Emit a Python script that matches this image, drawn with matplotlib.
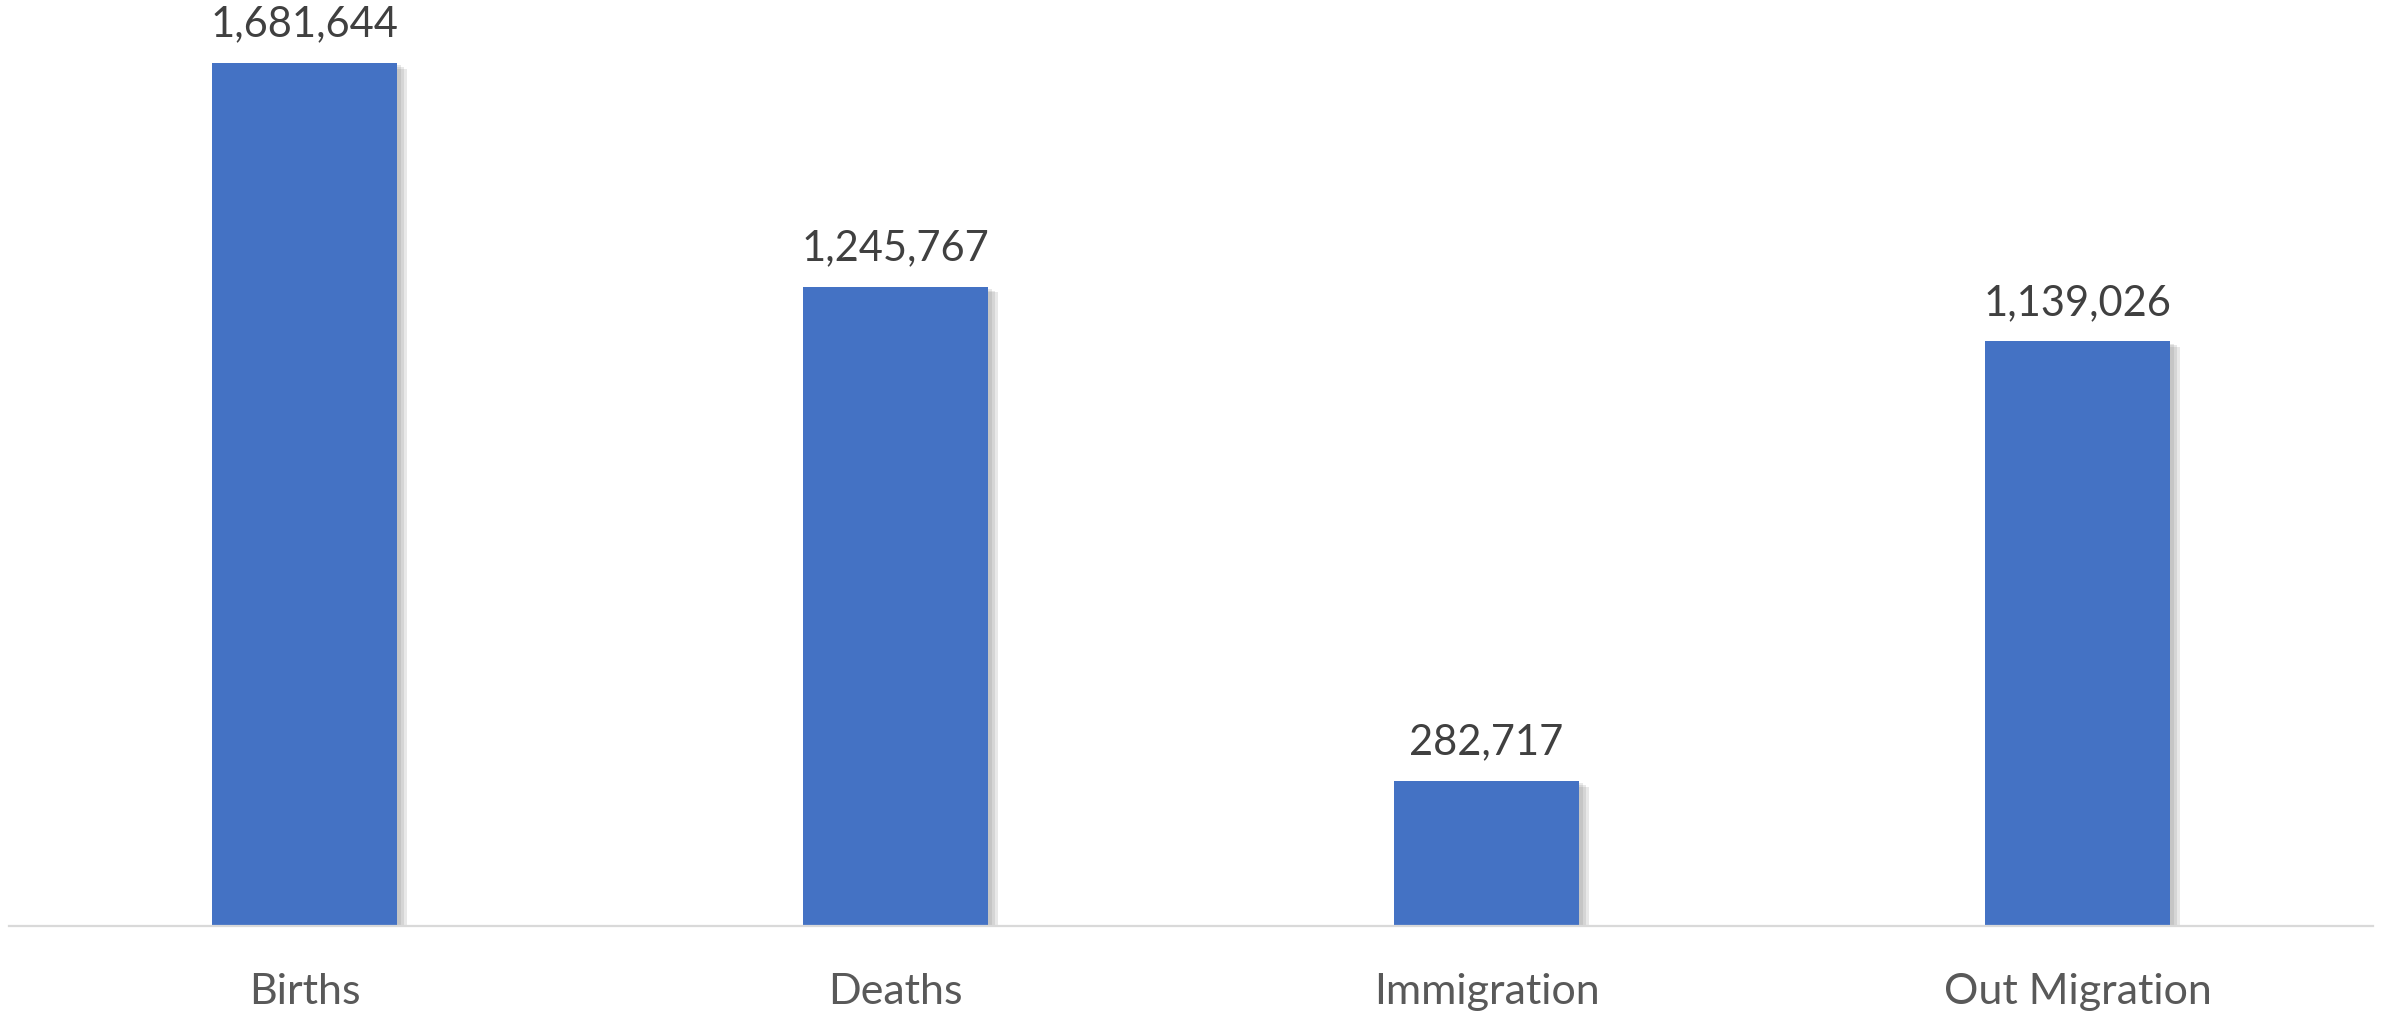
import matplotlib.pyplot as plt
import matplotlib.patheffects as pe

categories = ["Births", "Deaths", "Immigration", "Out Migration"]
values = [1681644, 1245767, 282717, 1139026]

plt.rcParams['font.family'] = ['Lato', 'DejaVu Sans']

fig = plt.figure(figsize=(23.92, 10.11), dpi=100)
ax = fig.add_axes([9 / 2392, (1011 - 926) / 1011, 2364 / 2392, 924 / 1011])

x = range(len(categories))
bars = ax.bar(x, values, width=0.313, color='#4472C4', zorder=3)
# soft drop shadow, like the office chart style
shadow = [pe.SimplePatchShadow(offset=(d, -d * 0.6), shadow_rgbFace='#808080', alpha=0.18)
          for d in (7, 5, 3)]
for b in bars:
    b.set_path_effects(shadow + [pe.Normal()])

for xi, v in zip(x, values):
    ax.annotate(f"{v:,}", (xi, v), xytext=(0, 14), textcoords='offset points',
                ha='center', va='bottom', fontsize=30, color='#404040')

ax.set_xlim(-0.5, 3.5)
ax.set_ylim(0, 1800000)
ax.set_xticks(list(x))
ax.set_xticklabels(categories, fontsize=31, color='#595959')
ax.tick_params(axis='x', length=0, pad=34)
ax.set_yticks([])
for s in ['top', 'right', 'left']:
    ax.spines[s].set_visible(False)
ax.spines['bottom'].set_color('#d9d9d9')
ax.spines['bottom'].set_linewidth(1.6)
ax.spines['bottom'].set_zorder(4)

fig.savefig('out.png', dpi=100)
